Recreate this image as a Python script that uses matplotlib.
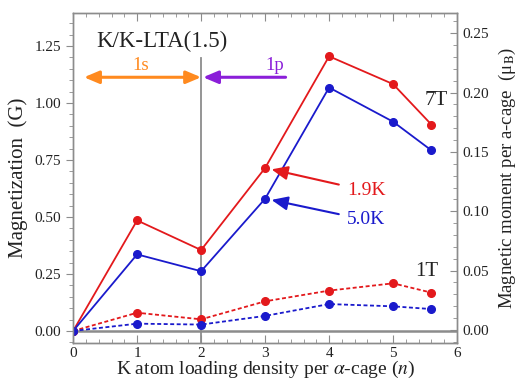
import matplotlib.pyplot as plt
from matplotlib.ticker import MultipleLocator

plt.rcParams['font.family'] = ['Liberation Serif', 'DejaVu Serif']
plt.rcParams['mathtext.fontset'] = 'stix'

# loading density n per alpha-cage
n = [0, 1, 2, 3, 4, 5, 5.6]

# magnetization (G) at 7 T
m7_19K = [0.0, 0.485, 0.355, 0.715, 1.205, 1.083, 0.905]
m7_50K = [0.0, 0.336, 0.262, 0.580, 1.068, 0.918, 0.792]
# magnetization (G) at 1 T
m1_19K = [0.0, 0.080, 0.051, 0.130, 0.177, 0.209, 0.168]
m1_50K = [0.0, 0.032, 0.028, 0.066, 0.118, 0.108, 0.096]

RED = '#e3191c'
BLUE = '#1a1acc'
GRAY = '#8c8c8c'
TXT = '#222222'
DASH = (0, (2.2, 1.4))

fig = plt.figure(figsize=(5.26, 3.82), dpi=100)
ax = fig.add_axes([0.139, 0.102, 0.730, 0.864])

ax.axhline(0, color=GRAY, lw=1.8, zorder=1)
ax.plot([2, 2], [-0.06, 1.197], color=GRAY, lw=1.3, zorder=1)

ax.plot(n, m7_19K, '-o', color=RED, lw=1.3, ms=5.5, zorder=3)
ax.plot(n, m7_50K, '-o', color=BLUE, lw=1.3, ms=5.5, zorder=3)
ax.plot(n, m1_19K, marker='o', ls=DASH, color=RED, lw=1.3, ms=5.5, zorder=3)
ax.plot(n, m1_50K, marker='o', ls=DASH, color=BLUE, lw=1.3, ms=5.5, zorder=3)

ax.set_xlim(0, 6)
ax.set_ylim(-0.053, 1.395)
ax.xaxis.set_major_locator(MultipleLocator(1))
ax.xaxis.set_minor_locator(MultipleLocator(0.2))
ax.yaxis.set_minor_locator(MultipleLocator(0.05))
ax.set_yticks([0, 0.25, 0.5, 0.75, 1.0, 1.25])
ax.set_yticklabels(['0.00', '0.25', '0.50', '0.75', '1.00', '1.25'])

for s in ax.spines.values():
    s.set_color(GRAY)
    s.set_linewidth(1.0)
ax.tick_params(axis='x', which='both', direction='in', top=True, colors=GRAY,
               labelcolor=TXT, labelsize=11, pad=3)
ax.tick_params(axis='x', which='major', length=6)
ax.tick_params(axis='x', which='minor', length=3)
ax.tick_params(axis='y', which='both', direction='out', colors=GRAY,
               labelcolor=TXT, labelsize=11)
ax.tick_params(axis='y', which='major', length=5)
ax.tick_params(axis='y', which='minor', length=3)

ax.set_xlabel(r'K atom loading density per $\alpha$-cage ($n$)', fontsize=14,
              color=TXT, labelpad=-1)
ax.set_ylabel('Magnetization  (G)', fontsize=15, color=TXT, labelpad=5)

# right axis in Bohr magnetons per cage
ax2 = ax.twinx()
ax2.set_ylim(-0.011, 0.267)
ax2.set_yticks([0, 0.05, 0.10, 0.15, 0.20, 0.25])
ax2.set_yticklabels(['0.00', '0.05', '0.10', '0.15', '0.20', '0.25'])
ax2.yaxis.set_minor_locator(MultipleLocator(0.01))
for s in ax2.spines.values():
    s.set_color(GRAY)
    s.set_linewidth(1.0)
ax2.tick_params(axis='y', which='both', direction='in', colors=GRAY,
                labelcolor=TXT, labelsize=11)
ax2.tick_params(axis='y', which='major', length=5)
ax2.tick_params(axis='y', which='minor', length=3)
ax2.set_ylabel('Magnetic moment per a-cage  (μ$_{\\rm B}$)', fontsize=13.5,
               color=TXT, labelpad=6)

ax.text(0.37, 1.27, 'K/K-LTA(1.5)', fontsize=16.5, color=TXT, va='center')

# orbital filling regions
ax.annotate('', xy=(0.17, 1.113), xytext=(2.0, 1.113),
            arrowprops=dict(arrowstyle='<|-|>,head_length=0.9,head_width=0.38',
                            color='#ff8a1f', lw=2.2, shrinkA=0, shrinkB=0))
ax.text(1.05, 1.165, '1s', fontsize=13.5, color='#ff8a1f', ha='center', va='center')
ax.annotate('', xy=(2.03, 1.113), xytext=(3.32, 1.113),
            arrowprops=dict(arrowstyle='-|>,head_length=0.9,head_width=0.38',
                            color='#8b1fd9', lw=2.2, shrinkA=0, shrinkB=0))
ax.text(3.15, 1.165, '1p', fontsize=13.5, color='#8b1fd9', ha='center', va='center')

ax.annotate('1.9K', xy=(3.1, 0.709), xytext=(4.28, 0.615), fontsize=14,
            color=RED, va='center',
            arrowprops=dict(arrowstyle='-|>,head_length=0.7,head_width=0.3',
                            color=RED, lw=1.5, shrinkA=4, shrinkB=0))
ax.annotate('5.0K', xy=(3.1, 0.575), xytext=(4.28, 0.487), fontsize=14,
            color=BLUE, va='center',
            arrowprops=dict(arrowstyle='-|>,head_length=0.7,head_width=0.3',
                            color=BLUE, lw=1.5, shrinkA=4, shrinkB=0))

ax.text(5.67, 1.01, '7T', fontsize=15, color=TXT, ha='center', va='center')
ax.text(5.53, 0.26, '1T', fontsize=15, color=TXT, ha='center', va='center')

fig.savefig('out.png', dpi=100)
